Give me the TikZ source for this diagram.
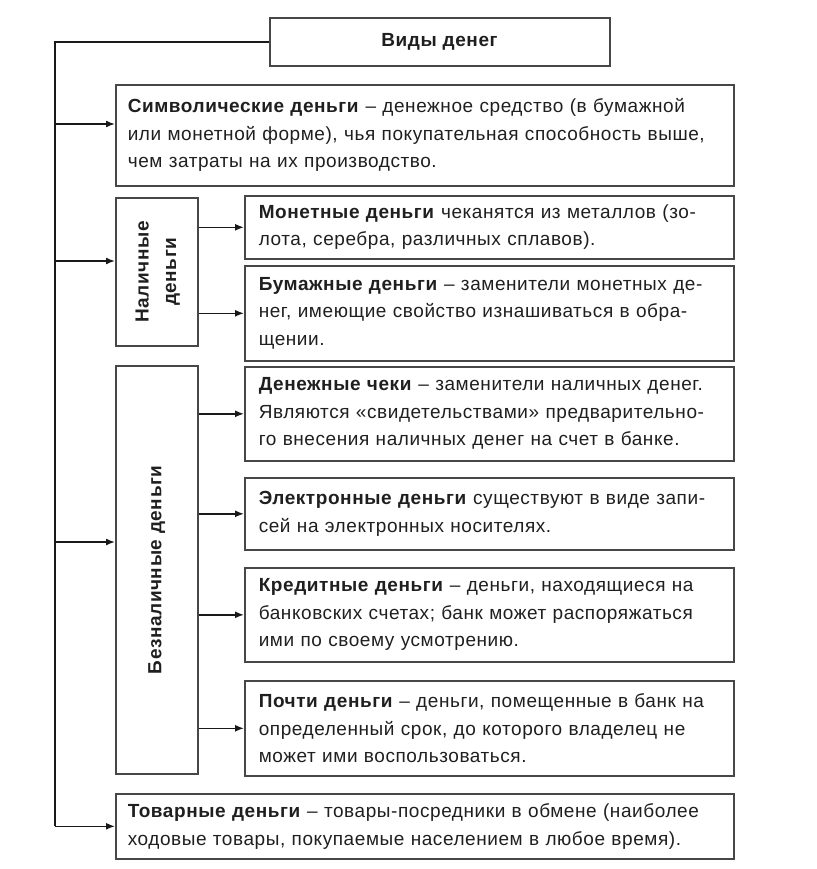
\documentclass[tikz,border=0pt]{standalone}
\usepackage{fontspec}
\setmainfont{Liberation Sans}[LetterSpace=3]
\usetikzlibrary{arrows.meta}
\begin{document}
\begin{tikzpicture}[x=1pt,y=-1pt,
  txt/.style={font=\fontsize{19}{27.5}\selectfont, text=black!88},
  box/.style={txt, draw=black!72, line width=1.6pt, anchor=north west, inner xsep=12pt, inner ysep=0pt, align=left},
  sbox/.style={box, minimum width=489pt, text width=461pt, inner xsep=14pt},
  wbox/.style={box, minimum width=618pt, text width=594pt},
  vbox/.style={txt, draw=black!72, line width=1.6pt, anchor=north west, inner sep=0pt, align=center},
  conn/.style={line width=1.5pt, draw=black!90},
  arr/.style={conn, -{Latex[length=9pt,width=7pt]}}]
\useasboundingbox (0,0) rectangle (816,869);

\node[vbox, minimum width=340pt, minimum height=48pt] (top) at (269,17) {\textbf{Виды денег}};

\node[wbox, minimum height=101pt] (sym) at (115,84)
 {\textbf{Символические деньги} – денежное средство (в бумажной\\или монетной форме), чья покупательная способность выше,\\чем затраты на их производство.};

\node[vbox, minimum width=82pt, minimum height=148pt] (nal) at (115,197)
 {\rotatebox{90}{\bfseries\begin{tabular}{@{}c@{}}Наличные\\деньги\end{tabular}}};

\node[sbox, minimum height=63pt] (mon) at (244,195)
 {\textbf{Монетные деньги} чеканятся из металлов (зо-\\лота, серебра, различных сплавов).};

\node[sbox, minimum height=95pt] (bum) at (244,265)
 {\textbf{Бумажные деньги} – заменители монетных де-\\нег, имеющие свойство изнашиваться в обра-\\щении.};

\node[vbox, minimum width=82pt, minimum height=408pt] (bez) at (115,365)
 {\rotatebox{90}{\bfseries Безналичные деньги}};

\node[sbox, minimum height=94pt] (chek) at (244,366)
 {\textbf{Денежные чеки} – заменители наличных денег.\\Являются «свидетельствами» предварительно-\\го внесения наличных денег на счет в банке.};

\node[sbox, minimum height=72pt] (el) at (244,477)
 {\textbf{Электронные деньги} существуют в виде запи-\\сей на электронных носителях.};

\node[sbox, minimum height=94pt] (kred) at (244,567)
 {\textbf{Кредитные деньги} – деньги, находящиеся на\\банковских счетах; банк может распоряжаться\\ими по своему усмотрению.};

\node[sbox, minimum height=95pt] (poch) at (244,680)
 {\textbf{Почти деньги} – деньги, помещенные в банк на\\определенный срок, до которого владелец не\\может ими воспользоваться.};

\node[wbox, minimum height=65pt] (tov) at (115,793)
 {\textbf{Товарные деньги} – товары-посредники в обмене (наиболее\\ходовые товары, покупаемые населением в любое время).};

% trunk
\coordinate (tk) at (55,40);
\coordinate (a1) at (55,124);
\coordinate (a2) at (55,261);
\coordinate (a3) at (55,542);
\draw[conn] (top.west) -| (tk |- tov.west);
\draw[arr] (a1) -- (a1 -| sym.west);
\draw[arr] (a2) -- (a2 -| nal.west);
\draw[arr] (a3) -- (a3 -| bez.west);
\draw[arr] (tk |- tov.west) -- (tov.west);

% branches
\draw[arr] (mon.west -| nal.east) -- (mon.west);
\draw[arr] (bum.west -| nal.east) -- (bum.west);
\draw[arr] (chek.west -| bez.east) -- (chek.west);
\draw[arr] (el.west -| bez.east) -- (el.west);
\draw[arr] (kred.west -| bez.east) -- (kred.west);
\draw[arr] (poch.west -| bez.east) -- (poch.west);
\end{tikzpicture}
\end{document}
